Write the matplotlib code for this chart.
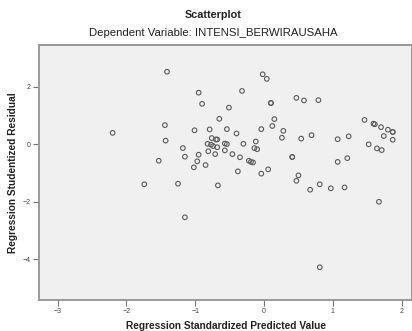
import matplotlib

matplotlib.use("Agg")
import matplotlib.pyplot as plt

plt.rcParams["font.family"] = ["Liberation Sans", "DejaVu Sans"]

# standardized predicted value vs studentized residual
pred = [
    -1.41, -0.02, 0.04, -0.95, -0.32, -0.90, 0.10, 0.10, -0.51, -0.65,
    -1.44, -1.01, -0.79, -0.54, -0.40, -0.04, -1.43, -0.76, -0.70, -0.68,
    -0.82, -0.77, -0.74, -0.68, -0.57, -0.54, -0.30, -0.12, -0.14, -0.10,
    -1.18, -0.81, -0.71, -0.57, -0.46, -1.15, -0.95, -0.35, -1.53, -0.97,
    -1.02, -0.85, -0.22, -0.19, -0.16, -0.38, -0.04, 0.06, -1.74, -1.25,
    -0.67, 0.47, 0.58, 0.79, 0.15, 0.12, 0.28, 0.26, 0.54, 0.69,
    1.07, 1.23, 1.46, 1.59, 1.61, 1.70, 1.80, 1.87, 1.87, 1.74,
    1.87, 1.52, 1.64, 1.71, 0.41, 0.41, 1.07, 1.21, 0.50, 0.47,
    0.67, 0.81, 0.97, 1.17, 1.67, 0.81, -1.15, -2.20,
]
resid = [
    2.53, 2.44, 2.28, 1.80, 1.86, 1.41, 1.44, 1.44, 1.28, 0.89,
    0.67, 0.49, 0.52, 0.53, 0.38, 0.53, 0.13, 0.22, 0.17, 0.17,
    0.02, -0.01, -0.06, -0.10, 0.03, 0.01, 0.02, 0.10, -0.13, -0.17,
    -0.13, -0.24, -0.34, -0.21, -0.34, -0.43, -0.36, -0.45, -0.57, -0.59,
    -0.80, -0.72, -0.57, -0.61, -0.63, -0.94, -1.02, -0.87, -1.39, -1.37,
    -1.43, 1.62, 1.53, 1.54, 0.88, 0.64, 0.47, 0.23, 0.20, 0.32,
    0.18, 0.28, 0.85, 0.72, 0.70, 0.60, 0.51, 0.43, 0.43, 0.29,
    0.16, 0.00, -0.14, -0.20, -0.44, -0.44, -0.61, -0.48, -1.08, -1.27,
    -1.58, -1.39, -1.53, -1.50, -2.00, -4.28, -2.54, 0.40,
]
x_ticks = [-3, -2, -1, 0, 1, 2]
y_ticks = [-4, -2, 0, 2]

fig = plt.figure(figsize=(4.12, 3.31), dpi=100)
ax = fig.add_axes([39 / 412, 31 / 331, 1 - 39 / 412, (300 - 45) / 331])
ax.set_facecolor("#f0f0f0")

ax.scatter(pred, resid, s=11, facecolors="none", edgecolors="#5a5a5a",
           linewidths=0.8, zorder=3)

ax.set_xlim(-3.27, 2.15)
ax.set_ylim(-5.42, 3.46)
ax.set_xticks(x_ticks)
ax.set_yticks(y_ticks)
ax.tick_params(direction="out", length=4, width=0.8, color="#777777",
               labelsize=5, labelcolor="#444444", pad=2)
for side in ("top", "right", "left", "bottom"):
    ax.spines[side].set_color("#999999")
    ax.spines[side].set_linewidth(1.4)

ax.set_xlabel("Regression Standardized Predicted Value", fontsize=7.3,
              fontweight="bold", color="#222222", labelpad=4)
ax.set_ylabel("Regression Studentized Residual", fontsize=7.3,
              fontweight="bold", color="#222222", labelpad=3)

fig.text(213 / 412, 1 - 15.5 / 331, "Scatterplot", ha="center", va="center",
         fontsize=7.8, fontweight="bold", color="#222222")
fig.text(213 / 412, 1 - 33.5 / 331, "Dependent Variable: INTENSI_BERWIRAUSAHA",
         ha="center", va="center", fontsize=8.2, color="#222222")

fig.savefig("out.png", dpi=100)
